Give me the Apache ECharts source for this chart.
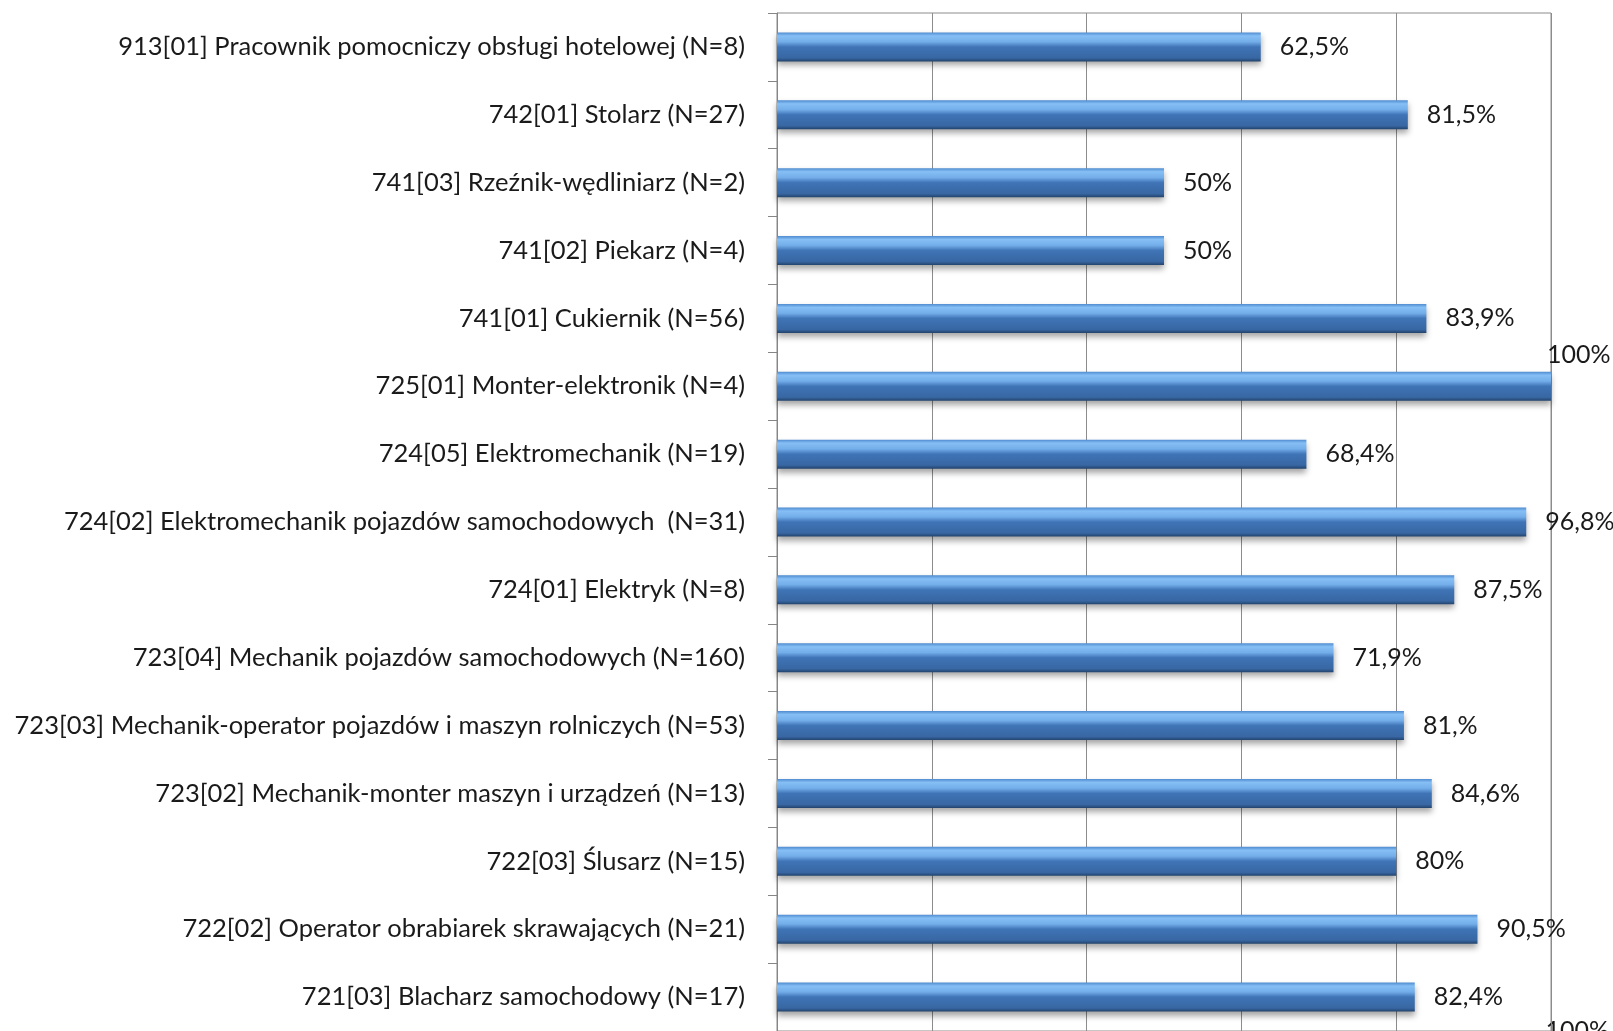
<!DOCTYPE html>
<html>
<head>
<meta charset="utf-8">
<script src="https://cdn.jsdelivr.net/npm/echarts@6/dist/echarts.min.js"></script>
<style>
  html, body {margin: 0; padding: 0; background: #fff;}
  #chart {width: 1613px; height: 1031px;}
</style>
</head>
<body>
<div id="chart"></div>
<script>
// top to bottom, as in the picture
var categories = [
    '913[01] Pracownik pomocniczy obsługi hotelowej (N=8)',
    '742[01] Stolarz (N=27)',
    '741[03] Rzeźnik-wędliniarz (N=2)',
    '741[02] Piekarz (N=4)',
    '741[01] Cukiernik (N=56)',
    '725[01] Monter-elektronik (N=4)',
    '724[05] Elektromechanik (N=19)',
    '724[02] Elektromechanik pojazdów samochodowych  (N=31)',
    '724[01] Elektryk (N=8)',
    '723[04] Mechanik pojazdów samochodowych (N=160)',
    '723[03] Mechanik-operator pojazdów i maszyn rolniczych (N=53)',
    '723[02] Mechanik-monter maszyn i urządzeń (N=13)',
    '722[03] Ślusarz (N=15)',
    '722[02] Operator obrabiarek skrawających (N=21)',
    '721[03] Blacharz samochodowy (N=17)'
];
var values = [62.5, 81.5, 50, 50, 83.9, 100, 68.4, 96.8, 87.5, 71.9, 81, 84.6, 80, 90.5, 82.4];
var value_labels = ['62,5%', '81,5%', '50%', '50%', '83,9%', '100%', '68,4%', '96,8%', '87,5%', '71,9%', '81,%', '84,6%', '80%', '90,5%', '82,4%'];
var axis_ticks = [0, 20, 40, 60, 80, 100];

var font = 'Lato';
var bar_fill = new echarts.graphic.LinearGradient(0, 0, 0, 1, [
    {offset: 0, color: '#4f8bd0'},
    {offset: 0.12, color: '#86bff5'},
    {offset: 0.32, color: '#74aeea'},
    {offset: 0.5, color: '#3f74b6'},
    {offset: 0.88, color: '#3867a3'},
    {offset: 1, color: '#22436c'}
]);

var bar_data = values.map(function (v, i) {
    var item = {value: v};
    if (v >= 100) {
        // the full bar has its label sitting above its end
        item.label = {position: ['100%', -17], offset: [-4, 0], align: 'left', verticalAlign: 'middle', distance: 0};
    }
    return item;
});

var chart = echarts.init(document.getElementById('chart'));
chart.setOption({
    animation: false,
    textStyle: {fontFamily: font},
    grid: {left: 777, top: 13, right: 62, bottom: 0, show: true, borderColor: '#8c8c8c', borderWidth: 1},
    xAxis: {
        type: 'value', min: axis_ticks[0], max: axis_ticks[axis_ticks.length - 1], interval: 20,
        axisLabel: {show: false}, axisTick: {show: false}, axisLine: {show: false},
        splitLine: {show: true, lineStyle: {color: '#8c8c8c', width: 1}}
    },
    yAxis: {
        type: 'category', inverse: true, data: categories,
        axisLine: {show: true, lineStyle: {color: '#868686', width: 1}},
        axisTick: {show: true, length: 9, lineStyle: {color: '#868686'}},
        axisLabel: {color: '#1a1a1a', fontSize: 25.5, margin: 32, fontFamily: font},
        splitLine: {show: false}
    },
    series: [{
        type: 'bar',
        data: bar_data,
        barWidth: 29,
        itemStyle: {color: bar_fill, shadowColor: 'rgba(0,0,0,0.35)', shadowBlur: 6, shadowOffsetY: 4},
        label: {
            show: true, position: 'right', distance: 19,
            color: '#1a1a1a', fontSize: 25, fontFamily: font,
            formatter: function (p) { return value_labels[p.dataIndex]; }
        }
    }],
    graphic: [{
        type: 'text', right: 4, bottom: -12,
        style: {text: '100%', fontSize: 25, fontFamily: font, fill: '#1a1a1a'}
    }]
});
</script>
</body>
</html>
